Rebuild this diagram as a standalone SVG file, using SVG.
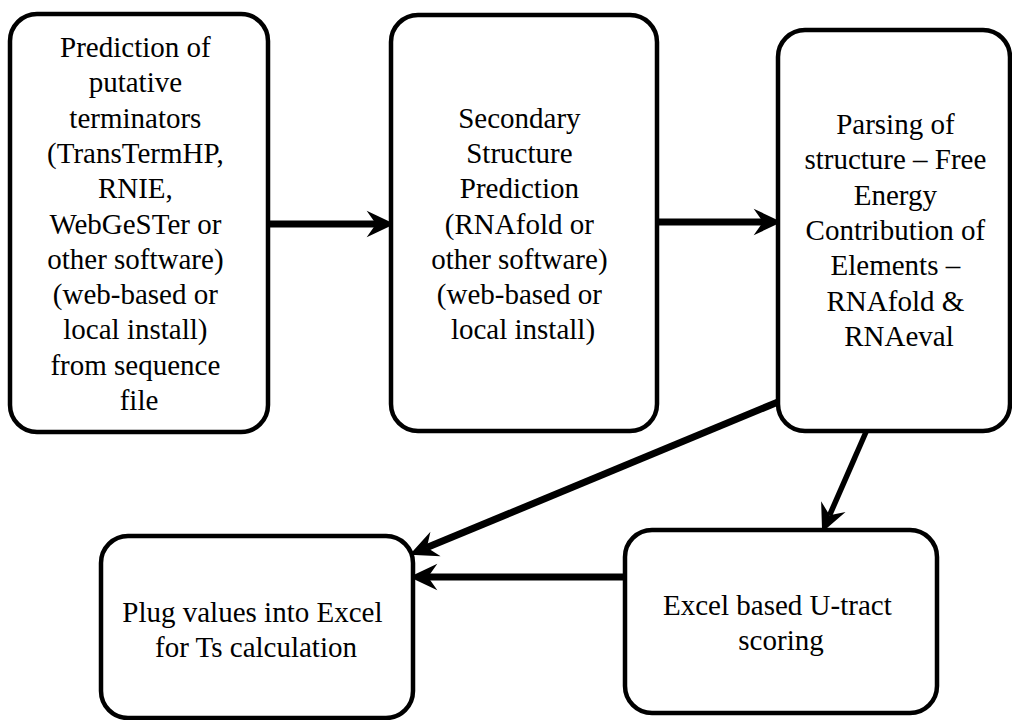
<svg xmlns="http://www.w3.org/2000/svg" width="1012" height="720" viewBox="0 0 1012 720">
  <style>
    .box { fill: #ffffff; stroke: #000000; stroke-width: 4.5; }
    .label { font-family: "Liberation Serif", "Times New Roman", serif; font-size: 29px; fill: #000000; text-anchor: middle; }
    .link { fill: none; stroke: #000000; stroke-width: 7; marker-end: url(#head); }
    .link.thin { stroke-width: 5.5; }
  </style>
  <defs>
    <!-- stealth arrowhead; origin sits at the notch, tip 14px ahead -->
    <marker id="head" markerUnits="userSpaceOnUse" markerWidth="40" markerHeight="40" viewBox="-10 -14 30 28" refX="0" refY="0" orient="auto" overflow="visible">
      <path d="M14,0 L-7,-10 L0,0 L-7,10 Z" fill="#000000"/>
    </marker>
  </defs>

  <!-- connectors -->
  <g id="connectors">
    <line class="link" x1="270" y1="224" x2="376" y2="224"/>
    <line class="link" x1="659" y1="222" x2="763" y2="222"/>
    <line class="link" x1="778" y1="402" x2="426.9" y2="547.6"/>
    <line class="link thin" x1="866" y1="432" x2="829.6" y2="515.2"/>
    <line class="link" x1="625" y1="577" x2="428" y2="577"/>
  </g>

  <!-- step 1 -->
  <g id="node-prediction">
    <rect class="box" x="10" y="14" width="258" height="418" rx="27" ry="27"/>
    <text class="label">
      <tspan x="139" y="57">Prediction of</tspan>
      <tspan x="139" y="92.3">putative</tspan>
      <tspan x="139" y="127.6">terminators</tspan>
      <tspan x="139" y="162.9">(TransTermHP,</tspan>
      <tspan x="139" y="198.2">RNIE,</tspan>
      <tspan x="139" y="233.5">WebGeSTer or</tspan>
      <tspan x="139" y="268.8">other software)</tspan>
      <tspan x="139" y="304.1">(web-based or</tspan>
      <tspan x="139" y="339.4">local install)</tspan>
      <tspan x="139" y="374.7">from sequence</tspan>
      <tspan x="139" y="410">file</tspan>
    </text>
  </g>

  <!-- step 2 -->
  <g id="node-secondary">
    <rect class="box" x="391" y="15" width="266" height="416" rx="27" ry="27"/>
    <text class="label">
      <tspan x="523" y="127.6">Secondary</tspan>
      <tspan x="523" y="162.9">Structure</tspan>
      <tspan x="523" y="198.2">Prediction</tspan>
      <tspan x="523" y="233.5">(RNAfold or</tspan>
      <tspan x="523" y="268.8">other software)</tspan>
      <tspan x="523" y="304.1">(web-based or</tspan>
      <tspan x="523" y="339.4">local install)</tspan>
    </text>
  </g>

  <!-- step 3 -->
  <g id="node-parsing">
    <rect class="box" x="778" y="30" width="232" height="401" rx="27" ry="27"/>
    <text class="label">
      <tspan x="899" y="134">Parsing of</tspan>
      <tspan x="899" y="169.3">structure – Free</tspan>
      <tspan x="899" y="204.6">Energy</tspan>
      <tspan x="899" y="239.9">Contribution of</tspan>
      <tspan x="899" y="275.2">Elements –</tspan>
      <tspan x="899" y="310.5">RNAfold &amp;</tspan>
      <tspan x="899" y="345.8">RNAeval</tspan>
    </text>
  </g>

  <!-- step 5 -->
  <g id="node-plug">
    <rect class="box" x="101" y="536" width="312" height="182" rx="27" ry="27"/>
    <text class="label">
      <tspan x="256" y="622">Plug values into Excel</tspan>
      <tspan x="256" y="657">for Ts calculation</tspan>
    </text>
  </g>

  <!-- step 4 -->
  <g id="node-utract">
    <rect class="box" x="625" y="530" width="312" height="183" rx="27" ry="27"/>
    <text class="label">
      <tspan x="781" y="615">Excel based U-tract</tspan>
      <tspan x="781" y="650">scoring</tspan>
    </text>
  </g>
</svg>
